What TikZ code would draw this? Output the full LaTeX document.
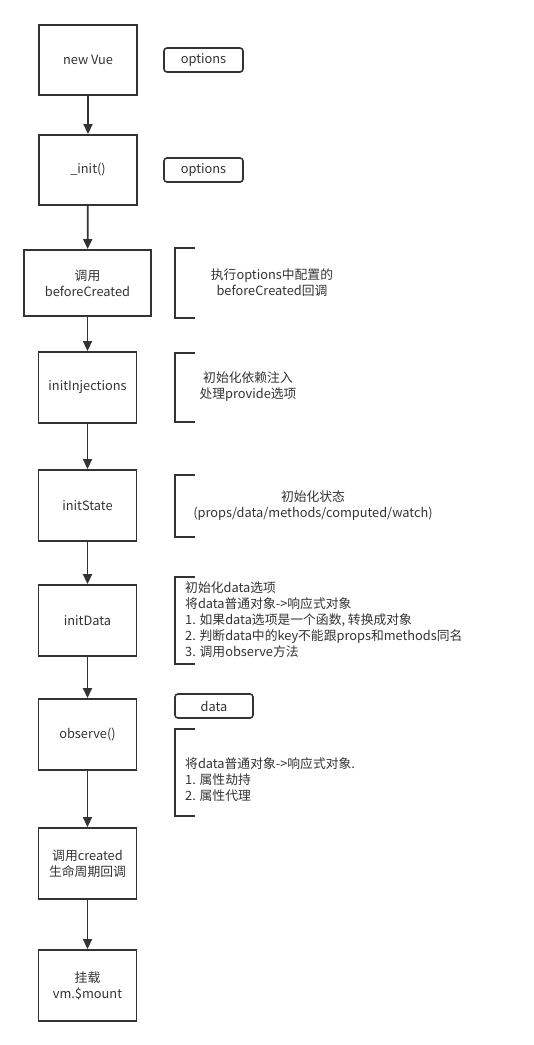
\documentclass[tikz,border=0pt]{standalone}
\usepackage{fontspec}
\setmainfont{Noto Sans CJK SC}
\usepackage{xcolor}
\usepackage{tikz}
\usetikzlibrary{arrows.meta, positioning}
\definecolor{ink}{HTML}{333333}

\begin{document}
\begin{tikzpicture}[
    x=1pt, y=-1pt,
    stepbox/.style={draw=ink, line width=1.9pt, rectangle, align=center, text=ink,
                    minimum width=98pt, minimum height=70pt, inner sep=0pt,
                    font=\fontsize{12.8}{16}\selectfont},
    optbox/.style={draw=ink, line width=1.6pt, rectangle, rounded corners=3pt, text=ink,
                   minimum width=79pt, minimum height=24pt, inner sep=0pt,
                   font=\fontsize{12.8}{16}\selectfont},
    bracket/.style={minimum width=20pt, inner sep=0pt},
    note/.style={align=center, text=ink, inner sep=0pt, font=\fontsize{12.8}{16}\selectfont},
    brace/.style={draw=ink, line width=1.6pt},
    arrow/.style={-{Triangle[length=10pt, width=9pt]}, draw=ink, line width=1.8pt}
]
\useasboundingbox (0,0) rectangle (534,1045);

% ====================== MAIN FLOW ======================
\node[stepbox] (newvue)  at (88,60)      {new Vue};
\node[stepbox] (init)    at (88,170)     {\_init()};
\node[stepbox, minimum width=127pt, minimum height=66pt] (before) at (87.5,283)
    {调用\\beforeCreated};
\node[stepbox, minimum height=71pt] (inject)   at (87.5,387.5) {initInjections};
\node[stepbox, minimum height=71pt] (state)    at (87.5,505.5) {initState};
\node[stepbox, minimum height=71pt] (initdata) at (87.5,620.5) {initData};
\node[stepbox, minimum height=71pt] (observe)  at (87.5,734.5) {observe()};
\node[stepbox, minimum height=71pt] (created)  at (87.5,863.5) {调用created\\生命周期回调};
\node[stepbox, minimum height=71pt] (mount)    at (87.5,985.5) {挂载\\vm.\$mount};

% ====================== PARAMETERS ======================
\node[optbox] (opt1) at (203.5,60)  {options};
\node[optbox] (opt2) at (203.5,170) {options};
\node[optbox, minimum width=78pt] (dataopt) at (214,706) {data};

% ====================== NOTES ======================
\node[bracket, minimum height=70pt] (brk1) at (185,283)   {};
\node[bracket, minimum height=69pt] (brk2) at (185,387.5) {};
\node[bracket, minimum height=62pt] (brk3) at (185,506)   {};
\node[bracket, minimum height=87pt] (brk4) at (185,620.5) {};
\node[bracket, minimum height=87pt] (brk5) at (185,772.5) {};

\node[note] (note1) at (272,283) {执行options中配置的\\beforeCreated回调};
\node[note] (note2) at (248,387) {初始化依赖注入\\处理provide选项};
\node[note] (note3) at (313,506) {初始化状态\\(props/data/methods/computed/watch)};
\node[note, align=left, anchor=west] (note4) at (185,620)
    {初始化data选项\\
     将data普通对象->响应式对象\\
     1. 如果data选项是一个函数, 转换成对象\\
     2. 判断data中的key不能跟props和methods同名\\
     3. 调用observe方法};
\node[note, align=left, anchor=west] (note5) at (185,780)
    {将data普通对象->响应式对象.\\
     1. 属性劫持\\
     2. 属性代理};

\foreach \b in {brk1, brk2, brk3, brk4, brk5}
    \draw[brace] (\b.north east) -- (\b.north west) -- (\b.south west) -- (\b.south east);

% ====================== ARROWS ======================
\draw[arrow] (newvue)   -- (init);
\draw[arrow] (init)     -- (before);
\draw[arrow] (before)   -- (inject);
\draw[arrow] (inject)   -- (state);
\draw[arrow] (state)    -- (initdata);
\draw[arrow] (initdata) -- (observe);
\draw[arrow] (observe)  -- (created);
\draw[arrow] (created)  -- (mount);

\end{tikzpicture}
\end{document}
